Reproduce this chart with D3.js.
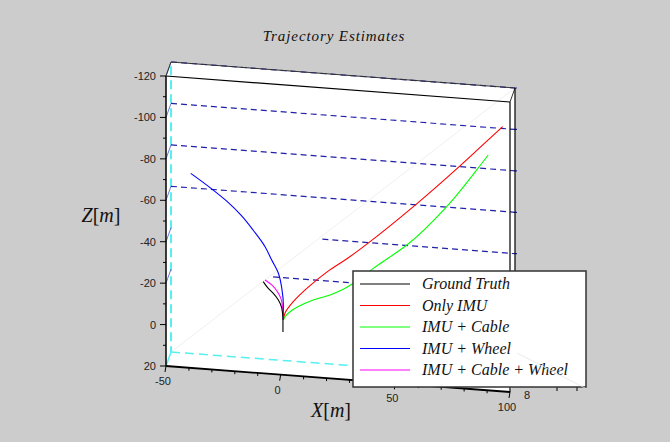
<!DOCTYPE html>
<html>
<head>
<meta charset="utf-8">
<script src="https://cdn.jsdelivr.net/npm/d3@7"></script>
<style>
  body { margin: 0; background: #cccccc; }
  svg { display: block; }
</style>
</head>
<body>
<script>
const width = 670, height = 442;

// trajectories (x and z in metres)
const truthX = [1.0, 1.0, 0.5, -1.0, -3.2, -5.4, -7.6];
const truthZ = [-0.7, -6.5, -12.1, -16.0, -19.0, -21.2, -24.3];
const imuX = [1.2, 1.9, 5.5, 11.4, 20.1, 29.5, 39.0, 59.3, 78.2, 90.5, 96.8];
const imuZ = [-6.5, -9.9, -15.7, -22.6, -31.2, -38.9, -47.5, -67.4, -87.3, -100.9, -107.8];
const cableX = [1.2, 1.9, 4.1, 7.7, 14.2, 21.5, 27.3, 31.7, 40.4, 55.0, 72.4, 85.5, 90.5];
const cableZ = [-6.5, -8.1, -10.7, -13.5, -17.2, -20.3, -23.5, -26.8, -34.7, -47.2, -67.2, -86.0, -93.6];
const wheelX = [1.2, 1.2, 0.5, -1.0, -3.9, -6.8, -11.9, -17.0, -23.5, -30.1, -39.2];
const wheelZ = [-6.5, -12.9, -21.7, -28.9, -35.0, -41.2, -48.6, -55.2, -61.8, -67.2, -73.9];
const allX = [1.1, 1.1, 0.5, -1.0, -3.9, -6.8];
const allZ = [-6.5, -8.1, -15.3, -19.2, -23.0, -25.1];

const seriesNames = ["Ground Truth", "Only IMU", "IMU + Cable", "IMU + Wheel", "IMU + Cable + Wheel"];
const seriesColors = ["#000000", "#ff0000", "#00ff00", "#0000ff", "#ff00ff"];

const zTicks = [-120, -100, -80, -60, -40, -20, 0, 20];
const zMinor = [-110, -90, -70, -50, -30, -10, 10];
const xTicks = [-50, 0, 50, 100];
const xMinor = [-40, -30, -20, -10, 10, 20, 30, 40, 60, 70, 80, 90];
const gridZ = [-120, -100, -80, -60, -40, -20];
const gridStart = [-50, -50, -50, -50, 16, -5.5];

// projection of the 3d box: x across, z down, d = depth (0 front, 1 back)
const xS = d3.scaleLinear([-50, 100], [166, 510]);
const xTilt = d3.scaleLinear([-50, 100], [0, 26]);
const zS = d3.scaleLinear([-120, 20], [76, 366]);
const dX = d3.scaleLinear([0, 1], [0, 5]);
const dY = d3.scaleLinear([0, 1], [0, -14]);
const P = (x, z, d = 0) => [xS(x) + dX(d), zS(z) + xTilt(x) + dY(d)];

const svg = d3.select("body").append("svg")
    .attr("width", width).attr("height", height)
    .style("font-family", "'Liberation Sans', Arial, sans-serif");

svg.append("rect").attr("width", width).attr("height", height).attr("fill", "#cccccc");

// visible faces of the box
const faces = [
  [P(-50, -120), P(100, -120), P(100, 20), P(-50, 20)],
  [P(-50, -120), P(-50, -120, 1), P(100, -120, 1), P(100, -120)],
  [P(100, -120), P(100, -120, 1), P(100, 20, 1), P(100, 20)]
];
svg.selectAll(".face").data(faces).join("polygon")
    .attr("points", d => d.map(p => p.join(",")).join(" "))
    .attr("fill", "#fff");

const seg = (a, b, color, w, dash) => svg.append("line")
    .attr("x1", a[0]).attr("y1", a[1]).attr("x2", b[0]).attr("y2", b[1])
    .attr("stroke", color).attr("stroke-width", w)
    .attr("stroke-dasharray", dash || null);

// faint diagonal of the back plane
seg(P(-50, 20, 1), P(100, -120, 1), "#e8e8e8", 0.7);

// cyan hidden edges
seg(P(-50, -118, 1), P(-50, 20, 1), "#55f0f0", 2, "9,5");
seg(P(-50, 20, 1), P(100, 20, 1), "#55f0f0", 1.5, "9,5");
seg(P(-50, 20), P(-50, 20, 1), "#55f0f0", 1.5);

// grid lines
gridZ.forEach((z, i) => {
  seg(P(-50, z), P(-50, z, 1), "#5050c0", 0.8);
  seg(P(gridStart[i], z, 1), P(100, z, 1), "#2020a8", 1.2, "6,4");
  seg(P(100, z, 1), [P(100, z, 1)[0] + 2, P(100, z, 1)[1]], "#2020a8", 1.2);
});

// box edges
seg(P(-50, -120), P(100, -120), "#000", 1.2);
seg(P(-50, -120, 1), P(100, -120, 1), "#333", 1);
seg(P(-50, -120), P(-50, -120, 1), "#333", 1);
seg(P(100, -120), P(100, -120, 1), "#333", 1);
seg(P(100, -120), P(100, 20), "#000", 1.2);
seg(P(100, -120, 1), P(100, 20, 1), "#000", 1.2);
seg(P(-50, -120), P(-50, 20), "#000", 1.5);
seg(P(-50, 20), P(100, 20), "#000", 1.8);

// Z axis ticks
zTicks.forEach(z => {
  const p = P(-50, z);
  seg([p[0] - 6, p[1]], p, "#000", 1);
  svg.append("text").attr("x", p[0] - 10).attr("y", p[1] + 4)
      .attr("text-anchor", "end").attr("font-size", 11).attr("fill", "#222").text(z);
});
zMinor.forEach(z => {
  const p = P(-50, z);
  seg([p[0] - 3, p[1]], p, "#000", 1);
});

// X axis ticks
xTicks.forEach(x => {
  const p = P(x, 20);
  seg(p, [p[0] - 1, p[1] + 6], "#000", 1);
  svg.append("text").attr("x", p[0] - 3).attr("y", p[1] + 19)
      .attr("text-anchor", "middle").attr("font-size", 11).attr("fill", "#222").text(x);
});
xMinor.forEach(x => {
  const p = P(x, 20);
  seg(p, [p[0], p[1] + 3], "#000", 1);
});

// trajectories
const line = d3.line().curve(d3.curveMonotoneY);
const series = [
  [truthX, truthZ], [imuX, imuZ], [cableX, cableZ], [wheelX, wheelZ], [allX, allZ]
];
const drawOrder = [1, 2, 3, 4, 0];
drawOrder.forEach(i => {
  const [xs, zs] = series[i];
  svg.append("path")
      .attr("d", line(xs.map((x, j) => P(x, zs[j]))))
      .attr("fill", "none").attr("stroke", seriesColors[i]).attr("stroke-width", 1.1);
});

// title and axis labels
svg.append("text").attr("x", 334).attr("y", 41).attr("text-anchor", "middle")
    .attr("font-family", "'Liberation Serif', serif").attr("font-style", "italic")
    .attr("font-size", 15).attr("letter-spacing", 0.9).attr("fill", "#111").text("Trajectory Estimates");

const axLabel = (x, y, v) => {
  const t = svg.append("text").attr("x", x).attr("y", y).attr("text-anchor", "middle")
      .attr("font-family", "'Liberation Serif', serif").attr("font-size", 20).attr("fill", "#111");
  t.append("tspan").attr("font-style", "italic").text(v);
  t.append("tspan").text("[");
  t.append("tspan").attr("font-style", "italic").text("m");
  t.append("tspan").text("]");
};
axLabel(101, 222, "Z");
axLabel(331, 417, "X");

// y axis fragment at bottom right
svg.append("text").attr("x", 527).attr("y", 399).attr("text-anchor", "middle")
    .attr("font-size", 11).attr("fill", "#222").text("8");
[557, 577].forEach(x => seg([x, 386], [x, 391], "#000", 1));

// legend
const lg = svg.append("g").attr("transform", "translate(353,271)");
lg.append("rect").attr("width", 233).attr("height", 116)
    .attr("fill", "#fff").attr("stroke", "#333").attr("stroke-width", 1.5);
const rowY = d3.scaleLinear([0, 4], [13, 99]);
seriesNames.forEach((name, i) => {
  lg.append("line").attr("x1", 7).attr("x2", 57).attr("y1", rowY(i)).attr("y2", rowY(i))
      .attr("stroke", seriesColors[i]).attr("stroke-width", 1);
  lg.append("text").attr("x", 69).attr("y", rowY(i) + 5)
      .attr("font-family", "'Liberation Serif', serif").attr("font-style", "italic")
      .attr("font-size", 16).attr("fill", "#111").text(name);
});
seg([517, 353], [585, 388], "#e6e6e6", 0.8);
</script>
</body>
</html>
